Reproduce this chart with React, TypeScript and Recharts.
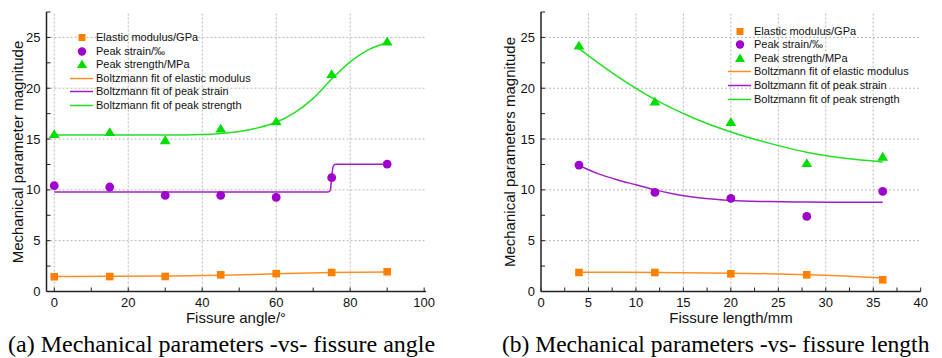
import React from 'react';
import { ComposedChart, Line, Scatter, XAxis, YAxis, ReferenceLine } from 'recharts';

// ---------- data: panel (a) fissure angle ----------
const angleX = [0, 15, 30, 45, 60, 75, 90];
const angleModulus = [1.45, 1.47, 1.48, 1.64, 1.76, 1.87, 1.94];
const angleStrain = [10.41, 10.28, 9.46, 9.46, 9.26, 11.2, 12.54];
const angleStrength = [15.45, 15.65, 14.85, 16.0, 16.7, 21.35, 24.55];

const angleFitModX = [0, 15, 30, 45, 60, 75, 90];
const angleFitMod = [1.48, 1.49, 1.52, 1.6, 1.74, 1.86, 1.93];
const angleFitStrainX = [0, 30, 60, 74, 74.6, 75, 75.4, 76, 80, 90];
const angleFitStrain = [9.78, 9.78, 9.78, 9.78, 9.95, 11.2, 12.3, 12.52, 12.52, 12.52];
const angleFitStrX = [0, 10, 20, 30, 40, 45, 50, 55, 60, 65, 70, 75, 80, 85, 90];
const angleFitStr = [15.4, 15.4, 15.4, 15.4, 15.45, 15.55, 15.75, 16.1, 16.65, 17.6, 19.0, 20.9, 22.6, 23.8, 24.5];

// ---------- data: panel (b) fissure length ----------
const lengthX = [4, 12, 20, 28, 36];
const lengthModulus = [1.87, 1.87, 1.74, 1.64, 1.15];
const lengthStrain = [12.44, 9.75, 9.16, 7.39, 9.85];
const lengthStrength = [24.17, 18.65, 16.65, 12.6, 13.23];

const lengthFitModX = [4, 12, 20, 24, 28, 32, 36];
const lengthFitMod = [1.9, 1.88, 1.8, 1.75, 1.66, 1.53, 1.33];
const lengthFitStrainX = [4, 6, 8, 10, 12, 14, 16, 18, 20, 24, 28, 32, 36];
const lengthFitStrain = [12.4, 11.6, 11.0, 10.5, 10.0, 9.6, 9.3, 9.1, 8.95, 8.85, 8.8, 8.78, 8.77];
const lengthFitStrX = [4, 8, 12, 16, 20, 24, 28, 32, 36];
const lengthFitStr = [23.9, 21.2, 18.9, 17.1, 15.7, 14.6, 13.7, 13.1, 12.75];

// ---------- ticks ----------
const yTicks = [0, 2.5, 5, 7.5, 10, 12.5, 15, 17.5, 20, 22.5, 25, 27.5];
const yMajor = [0, 5, 10, 15, 20, 25];
const yGrid = [5, 10, 15, 20, 25];
const angleTicks = [0, 10, 20, 30, 40, 50, 60, 70, 80, 90, 100];
const angleMajor = [0, 20, 40, 60, 80, 100];
const angleGrid = [0, 20, 40, 60, 80];
const lengthTicks = [0, 2.5, 5, 7.5, 10, 12.5, 15, 17.5, 20, 22.5, 25, 27.5, 30, 32.5, 35, 37.5, 40];
const lengthMajor = [0, 5, 10, 15, 20, 25, 30, 35, 40];
const lengthGrid = [5, 10, 15, 20, 25, 30, 35];

const legendLabels = [
  'Elastic modulus/GPa',
  'Peak strain/‰',
  'Peak strength/MPa',
  'Boltzmann fit of elastic modulus',
  'Boltzmann fit of peak strain',
  'Boltzmann fit of peak strength',
];

const ORANGE = '#FF8000';
const PURPLE = '#A000CC';
const GREEN = '#00DD00';
const ORANGE_L = '#FF9020';
const PURPLE_L = '#A020C8';
const GREEN_L = '#22E022';
const AXIS = '#222';
const SANS = '"Liberation Sans", Arial, sans-serif';
const SERIF = '"Liberation Serif", "Times New Roman", serif';

const pts = (xs: number[], ys: number[]) => xs.map((x, i) => ({ x, y: ys[i] }));

const SquareShape = (p: any) => <rect x={p.cx - 3.8} y={p.cy - 3.8} width={7.6} height={7.6} fill={ORANGE} />;
const CircleShape = (p: any) => <circle cx={p.cx} cy={p.cy} r={4.4} fill={PURPLE} />;
const TriShape = (p: any) => (
  <polygon points={`${p.cx},${p.cy - 5.2} ${p.cx + 5.4},${p.cy + 3.6} ${p.cx - 5.4},${p.cy + 3.6}`} fill={GREEN} />
);

type PanelProps = {
  width: number;
  yAxisWidth: number;
  marginRight: number;
  xDomain: [number, number];
  xTicks: number[];
  xMajor: number[];
  xGrid: number[];
  mod: { x: number; y: number }[];
  strain: { x: number; y: number }[];
  strength: { x: number; y: number }[];
  fitMod: { x: number; y: number }[];
  fitStrain: { x: number; y: number }[];
  fitStr: { x: number; y: number }[];
};

function Panel(props: PanelProps) {
  const tickStyle = { fill: '#111', fontSize: 13, fontFamily: SANS };
  const xFmt = (v: number) => (props.xMajor.includes(v) ? String(v) : '');
  const yFmt = (v: number) => (yMajor.includes(v) ? String(v) : '');
  return (
    <ComposedChart
      width={props.width}
      height={358}
      margin={{ top: 12, right: props.marginRight, bottom: 0, left: 0 }}
    >
      <XAxis
        xAxisId={0}
        dataKey="x"
        type="number"
        domain={props.xDomain}
        ticks={props.xTicks}
        tickFormatter={xFmt}
        allowDataOverflow
        height={66.5}
        interval={0}
        tickSize={-4}
        tickMargin={10}
        tick={tickStyle}
        axisLine={{ stroke: AXIS, strokeWidth: 1.5 }}
        tickLine={{ stroke: AXIS, strokeWidth: 1 }}
      />
      <XAxis
        xAxisId="top"
        orientation="top"
        type="number"
        domain={props.xDomain}
        ticks={props.xTicks}
        tickFormatter={() => ''}
        allowDataOverflow
        height={0}
        interval={0}
        tickSize={-4}
        axisLine={{ stroke: AXIS, strokeWidth: 1.5 }}
        tickLine={{ stroke: AXIS, strokeWidth: 1 }}
      />
      <YAxis
        yAxisId={0}
        dataKey="y"
        type="number"
        domain={[0, 27.5]}
        ticks={yTicks}
        tickFormatter={yFmt}
        allowDataOverflow
        width={props.yAxisWidth}
        interval={0}
        tickSize={-4}
        tickMargin={10}
        tick={tickStyle}
        axisLine={{ stroke: AXIS, strokeWidth: 1.5 }}
        tickLine={{ stroke: AXIS, strokeWidth: 1 }}
      />
      <YAxis
        yAxisId="right"
        orientation="right"
        type="number"
        domain={[0, 27.5]}
        ticks={yTicks}
        tickFormatter={() => ''}
        allowDataOverflow
        width={0}
        interval={0}
        tickSize={-4}
        axisLine={{ stroke: AXIS, strokeWidth: 1.5 }}
        tickLine={{ stroke: AXIS, strokeWidth: 1 }}
      />
      {props.xGrid.map((v) => (
        <ReferenceLine key={'gx' + v} x={v} stroke="#b8b8b8" strokeDasharray="2 2" strokeWidth={1} />
      ))}
      {yGrid.map((v) => (
        <ReferenceLine key={'gy' + v} y={v} stroke="#b8b8b8" strokeDasharray="2 2" strokeWidth={1} />
      ))}
      <Line data={props.fitMod} dataKey="y" type="monotone" stroke={ORANGE_L} strokeWidth={1.5} dot={false} isAnimationActive={false} />
      <Line data={props.fitStrain} dataKey="y" type="monotone" stroke={PURPLE_L} strokeWidth={1.5} dot={false} isAnimationActive={false} />
      <Line data={props.fitStr} dataKey="y" type="monotone" stroke={GREEN_L} strokeWidth={1.5} dot={false} isAnimationActive={false} />
      <Scatter data={props.mod} dataKey="y" shape={SquareShape} isAnimationActive={false} />
      <Scatter data={props.strain} dataKey="y" shape={CircleShape} isAnimationActive={false} />
      <Scatter data={props.strength} dataKey="y" shape={TriShape} isAnimationActive={false} />
    </ComposedChart>
  );
}

function LegendBox({ left, top, gap }: { left: number; top: number; gap: number }) {
  // left = line-symbol start, top = first row centre
  const rows = legendLabels.map((label, i) => {
    let sym: React.ReactNode;
    if (i === 0) sym = <rect x={8.5} y={3} width={7} height={7} fill={ORANGE} />;
    else if (i === 1) sym = <circle cx={12} cy={6.5} r={4.2} fill={PURPLE} />;
    else if (i === 2) sym = <polygon points="12,1.5 17,10 7,10" fill={GREEN} />;
    else {
      const c = i === 3 ? ORANGE_L : i === 4 ? PURPLE_L : GREEN_L;
      sym = <line x1={0} y1={6.5} x2={23} y2={6.5} stroke={c} strokeWidth={1.5} />;
    }
    return (
      <div
        key={label}
        style={{ position: 'absolute', left: 0, top: i * gap - 6.5, height: 13, display: 'flex', alignItems: 'center', whiteSpace: 'nowrap' }}
      >
        <svg width={26} height={13} style={{ display: 'block' }}>{sym}</svg>
        <span style={{ fontFamily: SANS, fontSize: 11, color: '#111', lineHeight: '13px' }}>{label}</span>
      </div>
    );
  });
  return <div style={{ position: 'absolute', left, top }}>{rows}</div>;
}

const absText = (extra: React.CSSProperties): React.CSSProperties => ({
  position: 'absolute',
  whiteSpace: 'nowrap',
  color: '#111',
  ...extra,
});

export default function App() {
  return (
    <div style={{ position: 'absolute', left: 0, top: 0, width: 942, height: 358, background: '#fff', overflow: 'hidden' }}>
      <div style={{ position: 'absolute', left: 0, top: 0 }}>
        <Panel
          width={470}
          yAxisWidth={46.5}
          marginRight={44}
          xDomain={[-2.1, 100.5]}
          xTicks={angleTicks}
          xMajor={angleMajor}
          xGrid={angleGrid}
          mod={pts(angleX, angleModulus)}
          strain={pts(angleX, angleStrain)}
          strength={pts(angleX, angleStrength)}
          fitMod={pts(angleFitModX, angleFitMod)}
          fitStrain={pts(angleFitStrainX, angleFitStrain)}
          fitStr={pts(angleFitStrX, angleFitStr)}
        />
      </div>
      <div style={{ position: 'absolute', left: 470, top: 0 }}>
        <Panel
          width={472}
          yAxisWidth={71}
          marginRight={21.3}
          xDomain={[0, 40]}
          xTicks={lengthTicks}
          xMajor={lengthMajor}
          xGrid={lengthGrid}
          mod={pts(lengthX, lengthModulus)}
          strain={pts(lengthX, lengthStrain)}
          strength={pts(lengthX, lengthStrength)}
          fitMod={pts(lengthFitModX, lengthFitMod)}
          fitStrain={pts(lengthFitStrainX, lengthFitStrain)}
          fitStr={pts(lengthFitStrX, lengthFitStr)}
        />
      </div>

      <LegendBox left={70} top={37.5} gap={13.5} />
      <LegendBox left={728} top={31} gap={13.6} />

      <div style={absText({ left: 236, top: 317, transform: 'translate(-50%,-50%)', fontFamily: SANS, fontSize: 15, lineHeight: '15px' })}>
        Fissure angle/°
      </div>
      <div style={absText({ left: 731, top: 317, transform: 'translate(-50%,-50%)', fontFamily: SANS, fontSize: 15, lineHeight: '15px' })}>
        Fissure length/mm
      </div>
      <div style={absText({ left: 17, top: 152, transform: 'translate(-50%,-50%) rotate(-90deg)', fontFamily: SANS, fontSize: 15, lineHeight: '15px' })}>
        Mechanical parameter magnitude
      </div>
      <div style={absText({ left: 509, top: 152, transform: 'translate(-50%,-50%) rotate(-90deg)', fontFamily: SANS, fontSize: 15, lineHeight: '15px' })}>
        Mechanical parameters magnitude
      </div>

      <div style={absText({ left: 8, top: 332, fontFamily: SERIF, fontSize: 24, lineHeight: '24px', color: '#000' })}>
        (a) Mechanical parameters -vs- fissure angle
      </div>
      <div style={absText({ left: 502, top: 332, fontFamily: SERIF, fontSize: 23.5, lineHeight: '24px', color: '#000' })}>
        (b) Mechanical parameters -vs- fissure length
      </div>
    </div>
  );
}
